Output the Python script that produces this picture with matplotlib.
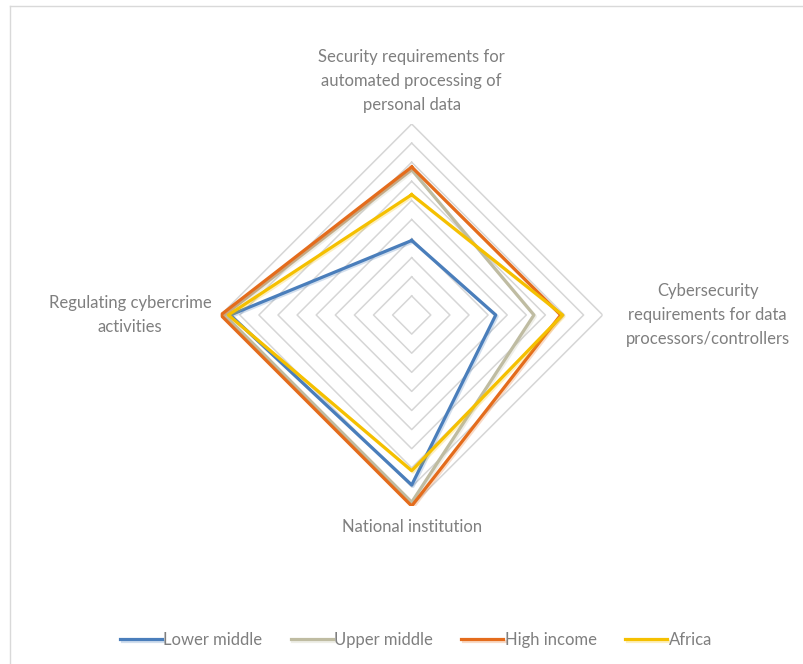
import numpy as np
import matplotlib.pyplot as plt
import matplotlib.patheffects as pe

plt.rcParams['font.family'] = ['Lato', 'DejaVu Sans']

# Datos
categories = [
    "Security requirements for\nautomated processing of\npersonal data",
    "Cybersecurity\nrequirements for data\nprocessors/controllers",
    "National institution",
    "Regulating cybercrime\nactivities",
]
lower_middle = [0.39, 0.44, 0.89, 0.95]
upper_middle = [0.76, 0.64, 0.98, 0.98]
high_income = [0.775, 0.78, 1.00, 1.00]
africa = [0.63, 0.79, 0.815, 0.96]

series = [
    ("Lower middle", lower_middle, "#4a7ebb"),
    ("Upper middle", upper_middle, "#bfbca2"),
    ("High income", high_income, "#e46c1c"),
    ("Africa", africa, "#f5c000"),
]
levels = np.arange(0.1, 1.01, 0.1)

W, H = 804, 664
fig = plt.figure(figsize=(W / 100, H / 100), dpi=100)

# marco del gráfico (solo izquierda y arriba visibles)
fig.add_artist(plt.Line2D([10 / W, 10 / W], [0, 1 - 6 / H], color="#d9d9d9", lw=1))
fig.add_artist(plt.Line2D([10 / W, 1], [1 - 6 / H, 1 - 6 / H], color="#d9d9d9", lw=1))

cx, cy, R = 411.7, 315, 191
ax = fig.add_axes([(cx - R) / W, 1 - (cy + R) / H, 2 * R / W, 2 * R / H], polar=True)
ax.set_theta_offset(np.pi / 2)
ax.set_theta_direction(-1)
ax.set_ylim(0, 1)
ax.grid(False)
ax.spines["polar"].set_visible(False)
ax.set_xticks([])
ax.set_yticks([])

angles = np.linspace(0, 2 * np.pi, len(categories), endpoint=False)
closed = np.concatenate([angles, angles[:1]])

# rejilla en forma de rombo
for lv in levels:
    ax.plot(closed, [lv] * len(closed), color="#d6d6d6", lw=1.1, zorder=1)

for name, vals, col in series:
    v = list(vals) + [vals[0]]
    ax.plot(closed, v, color=col, lw=2.3, label=name, zorder=3,
            path_effects=[pe.SimpleLineShadow(offset=(1, -1), alpha=0.25, shadow_color=col),
                          pe.Normal()])

label_r = [1.225, 1.55, 1.11, 1.475]
for ang, lab, r in zip(angles, categories, label_r):
    ax.text(ang, r, lab, ha="center", va="center", fontsize=12,
            color="#7f7f7f", linespacing=1.6, clip_on=False)

fig.legend(loc="center", bbox_to_anchor=(416 / W, 1 - 640 / H), ncol=4,
           frameon=False, fontsize=12, handlelength=2.5, handletextpad=0.1,
           columnspacing=1.7, labelcolor="#7f7f7f")

fig.savefig("out.png", dpi=100)
